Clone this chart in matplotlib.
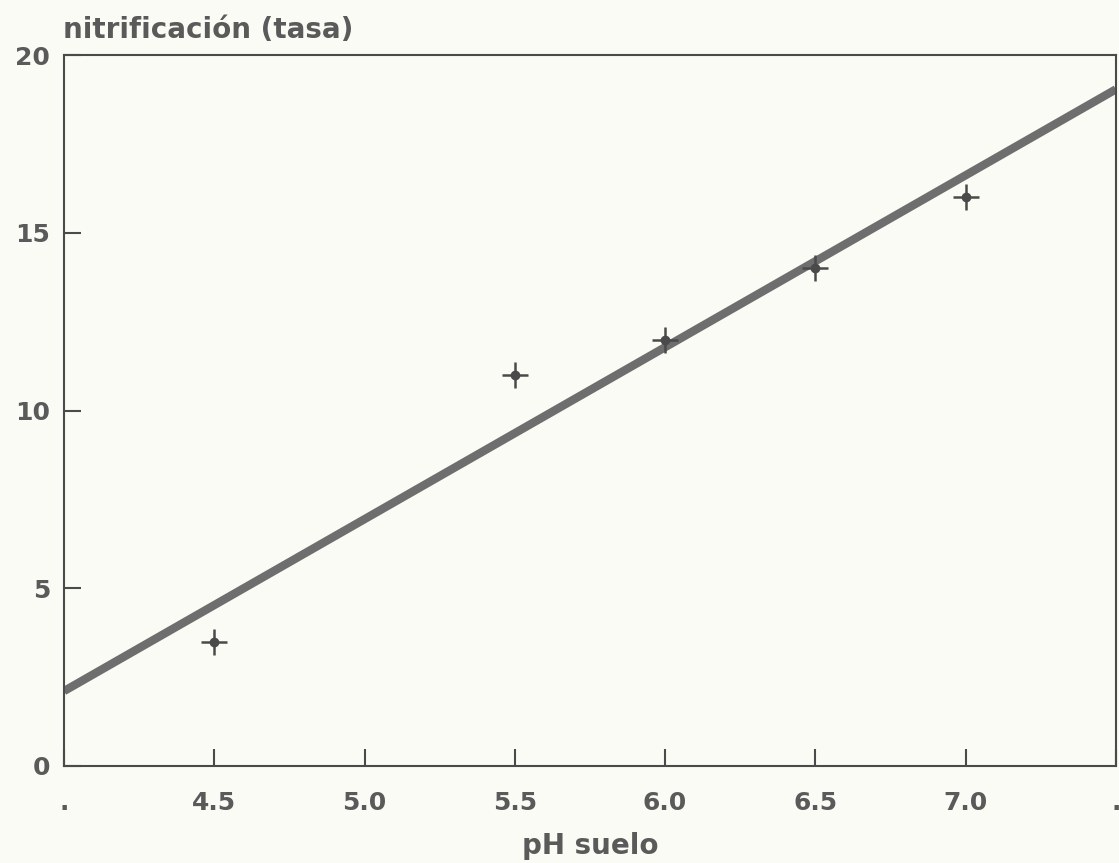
import numpy as np
import matplotlib
matplotlib.use("Agg")
import matplotlib.pyplot as plt

ph = [4.5, 5.5, 6.0, 6.5, 7.0]
nitrificacion = [3.5, 11.0, 12.0, 14.0, 16.0]
x_ticks = [4.0, 4.5, 5.0, 5.5, 6.0, 6.5, 7.0, 7.5]
x_ticklabels = [".", "4.5", "5.0", "5.5", "6.0", "6.5", "7.0", "."]
y_ticks = [0, 5, 10, 15, 20]
y_ticklabels = ["0", "5", "10", "15", "20"]

plt.rcParams['font.family'] = ['DejaVu Sans']
ink = "#4a4a4a"
txt = "#5a5a5a"
bg = "#fbfbf6"

fig = plt.figure(figsize=(11.19, 8.63), dpi=100, facecolor=bg)
ax = fig.add_axes([0.0572, 0.1124, 0.9400, 0.8236], facecolor=bg)

# regression line
slope, intercept = np.polyfit(ph, nitrificacion, 1)
xl = np.array([4.0, 7.5])
ax.plot(xl, slope * xl + intercept, color="#6e6e6e", lw=6, solid_capstyle="butt", zorder=2)

ax.plot(ph, nitrificacion, linestyle="none", marker="+", markersize=19, mew=1.8, color=ink, zorder=3)
ax.plot(ph, nitrificacion, linestyle="none", marker="o", markersize=6, color=ink, zorder=3)

ax.set_xlim(4.0, 7.5)
ax.set_ylim(0, 20)
ax.set_xticks(x_ticks)
ax.set_xticklabels(x_ticklabels)
ax.set_yticks(y_ticks)
ax.set_yticklabels(y_ticklabels)
ax.tick_params(axis="both", direction="in", length=12, width=1.5, color=ink,
               labelsize=18, labelcolor=txt)
ax.tick_params(axis="x", pad=18)
ax.tick_params(axis="y", pad=10)
for lab in ax.get_xticklabels() + ax.get_yticklabels():
    lab.set_fontweight("bold")
for sp in ax.spines.values():
    sp.set_color(ink)
    sp.set_linewidth(1.5)

ax.set_xlabel("pH suelo", fontsize=20, fontweight="bold", color=txt, labelpad=12)
fig.text(0.056, 0.965, "nitrificación (tasa)", fontsize=20, fontweight="bold",
         color=txt, ha="left", va="center")

fig.savefig("out.png", dpi=100, facecolor=bg)
